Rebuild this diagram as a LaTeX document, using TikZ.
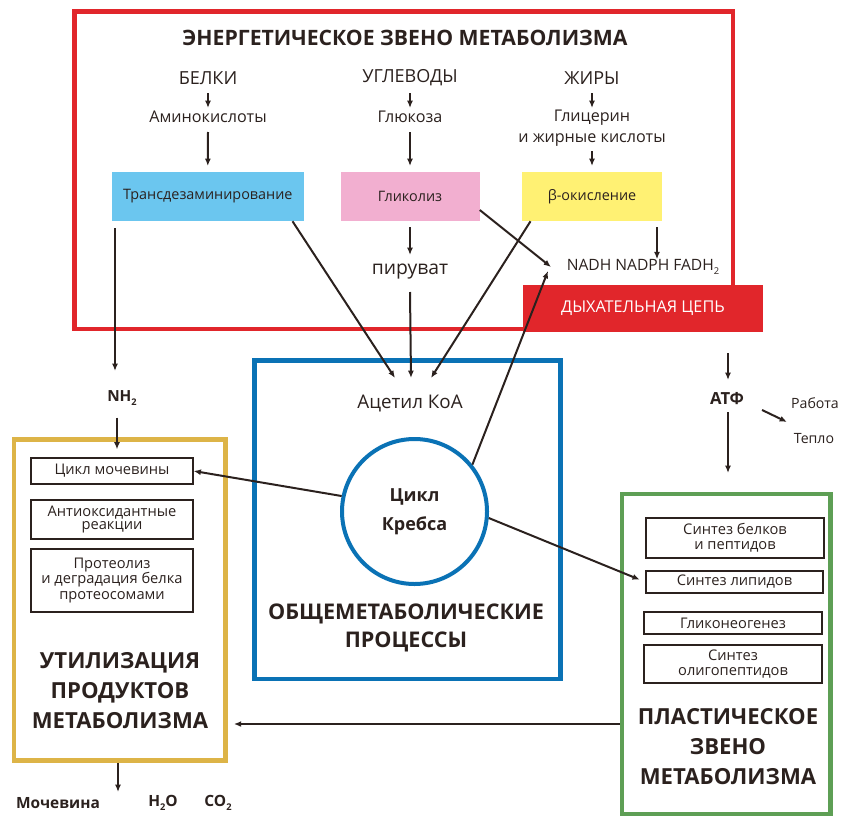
\documentclass[tikz,border=0pt]{standalone}
\usepackage{fontspec}
\setmainfont{Open Sans}
\usetikzlibrary{arrows.meta,calc}
\definecolor{txt}{HTML}{2B211E}
\definecolor{redf}{HTML}{E1262B}
\definecolor{lblue}{HTML}{6BC6EF}
\definecolor{lpink}{HTML}{F2AFD0}
\definecolor{lyell}{HTML}{FFF173}
\definecolor{bluef}{HTML}{0A72B5}
\definecolor{goldf}{HTML}{DDB447}
\definecolor{greenf}{HTML}{5E9F55}
\newcommand{\lowsub}[1]{\raisebox{-0.45ex}{\scalebox{0.6}{#1}}}
\tikzset{
  frame/.style={draw, line width=3.6pt, rectangle, inner sep=0pt},
  procbox/.style={rectangle, inner sep=0pt, text=txt, font=\fontsize{10.8}{13}\selectfont, minimum height=36.75pt},
  sub/.style={rectangle, draw=txt, line width=0.9pt, inner sep=0pt, text=txt, align=center, font=\fontsize{11}{11.3}\selectfont},
  lbl/.style={inner sep=0pt, text=txt, align=center},
  big/.style={lbl, font=\fontsize{13.5}{16}\selectfont},
  small/.style={lbl, font=\fontsize{12.1}{15.5}\selectfont},
  btitle/.style={lbl, font=\fontsize{16.6}{22.5}\selectfont\bfseries},
  boldlbl/.style={lbl, font=\fontsize{11.6}{13}\selectfont\bfseries},
  arr/.style={draw=txt, line width=1.5pt, -{Latex[length=5.5pt,width=4.5pt]}},
}
\begin{document}
\begin{tikzpicture}[x=0.75pt,y=-0.75pt]
\useasboundingbox (0,0) rectangle (841,817);
% frames
\node[frame, draw=redf, minimum width=493.9pt, minimum height=238.1pt] (redfr) at (403.75,170.25) {};
\node[frame, draw=bluef, minimum width=229.2pt, minimum height=239pt] (bluefr) at (407.5,519.7) {};
\node[frame, draw=goldf, minimum width=158.6pt, minimum height=240.75pt] (goldfr) at (119.75,600) {};
\node[frame, draw=greenf, minimum width=156.4pt, minimum height=240pt] (greenfr) at (726.25,654) {};
% top block
\node[lbl, font=\fontsize{15.9}{18}\selectfont\bfseries] (ttl) at (405,38) {ЭНЕРГЕТИЧЕСКОЕ ЗВЕНО МЕТАБОЛИЗМА};
\node[big] (belki) at (208,78) {БЕЛКИ};
\node[big] (uglev) at (410,78) {УГЛЕВОДЫ};
\node[big] (zhiry) at (592,78) {ЖИРЫ};
\node[small] (amino) at (208,117) {Аминокислоты};
\node[small] (gluc) at (410,117) {Глюкоза};
\node[small] (glic) at (592,128) {Глицерин\\и жирные кислоты};
\node[procbox, fill=lblue, minimum width=143.7pt] (trans) at (207.8,196.5) {Трансдезаминирование};
\node[procbox, fill=lpink, minimum width=104.25pt] (glyc) at (410,196.5) {Гликолиз};
\node[procbox, fill=lyell, minimum width=104.6pt] (beta) at (592,196.5) {β-окисление};
\node[lbl, font=\fontsize{14.5}{16}\selectfont] (piruv) at (410,272) {пируват};
\node[lbl, font=\fontsize{11.7}{12}\selectfont] (nadh) at (643,267) {NADH NADPH FADH\lowsub{2}};
\node[rectangle, fill=redf, inner sep=0pt, minimum width=180pt, minimum height=35.25pt, text=white, font=\fontsize{12.2}{14}\selectfont] (resp) at (643,308.5) {ДЫХАТЕЛЬНАЯ ЦЕПЬ};
% central block
\node[lbl, font=\fontsize{14.1}{16}\selectfont] (acetyl) at (410,403) {Ацетил КоА};
\node[circle, draw=bluef, line width=3pt, fill=white, minimum size=108.75pt, inner sep=0pt, text=txt, align=center, font=\fontsize{13.5}{21.5}\selectfont\bfseries] (krebs) at (414.5,511.5) {Цикл\\Кребса};
\node[lbl, font=\fontsize{16.2}{21.5}\selectfont\bfseries] (obsh) at (406,628) {ОБЩЕМЕТАБОЛИЧЕСКИЕ\\ПРОЦЕССЫ};
% left block
\node[lbl, font=\fontsize{11.5}{13}\selectfont\bfseries] (nh2) at (122,398) {NH\lowsub{2}};
\node[sub, minimum width=121.5pt, minimum height=19.5pt] (urea) at (112,471) {Цикл мочевины};
\node[sub, minimum width=121.5pt, minimum height=29.25pt, font=\fontsize{11}{10}\selectfont] (antiox) at (112,519.5) {Антиоксидантные\\реакции};
\node[sub, minimum width=121.5pt, minimum height=47.25pt, font=\fontsize{11}{11.9}\selectfont] (prot) at (112,580.5) {Протеолиз\\и деградация белка\\протеосомами};
\node[btitle] (util) at (120,690.5) {УТИЛИЗАЦИЯ\\ПРОДУКТОВ\\МЕТАБОЛИЗМА};
\node[boldlbl] (moch) at (58,803) {Мочевина};
\node[boldlbl] (h2o) at (163,803) {H\lowsub{2}O};
\node[boldlbl] (co2) at (218,803) {CO\lowsub{2}};
% right block
\node[lbl, font=\fontsize{12.5}{13}\selectfont\bfseries] (atf) at (727,399) {АТФ};
\node[lbl, font=\fontsize{10.6}{13}\selectfont] (rabota) at (815,403) {Работа};
\node[lbl, font=\fontsize{10.6}{13}\selectfont] (teplo) at (814,439) {Тепло};
\node[sub, minimum width=133.5pt, minimum height=30pt] (synprot) at (735,538) {Синтез белков\\и пептидов};
\node[sub, minimum width=132.75pt, minimum height=16.5pt] (synlip) at (734.5,582) {Синтез липидов};
\node[sub, minimum width=133.5pt, minimum height=16.5pt] (gluco) at (733,623) {Гликонеогенез};
\node[sub, minimum width=133.5pt, minimum height=28.5pt] (oligo) at (733,664) {Синтез\\олигопептидов};
\node[btitle] (plast) at (728,746.5) {ПЛАСТИЧЕСКОЕ\\ЗВЕНО\\МЕТАБОЛИЗМА};
% free arrow ends
\coordinate (ac1) at (395,378);
\coordinate (ac2) at (411,378);
\coordinate (ac3) at (431,378);
\coordinate (nd1) at (551,267);
\coordinate (nd2) at (548,271);
\coordinate (nhin) at (115,371);
\coordinate (atfin) at (728,380);
\coordinate (grin) at (728,473);
\coordinate (worktip) at (787,422);
\coordinate (wasteend) at (118,792);
% arrows top
\draw[arr] (belki.south |- 0,93) -- (amino.north |- 0,108);
\draw[arr] (amino.south |- 0,132) -- (trans.north |- 0,166);
\draw[arr] (uglev.south |- 0,93) -- (gluc.north |- 0,108);
\draw[arr] (gluc.south |- 0,132) -- (glyc.north |- 0,166);
\draw[arr] (zhiry.south |- 0,93) -- (glic.north |- 0,108);
\draw[arr] (glic.south |- 0,151) -- (beta.north |- 0,166);
\draw[arr] (glyc.south |- 0,227) -- (piruv.north |- 0,255);
\draw[arr] (piruv.south |- 0,292) -- (ac2);
\draw[arr] (trans.south -| 292.5,0) -- (ac1);
\draw[arr] (beta.south -| 530.5,0) -- (ac3);
\draw[arr] (glyc.east |- 0,210) -- (nd1);
\draw[arr] (beta.south -| 657,0) ++(0,6) -- (nadh.north -| 657,0);
\draw[arr] (krebs.39) -- (nd2);
\draw[arr] (trans.south -| 115,0) ++(0,7) -- (nhin);
\draw[arr, shorten >=6pt] (nh2.south -| 117,0) ++(0,12) -- (urea.north -| 117,0);
\draw[arr] (krebs.168) -- (urea.east);
\draw[arr, shorten >=4.5pt] (krebs.-5) -- (synlip.west);
% right side arrows
\draw[arr] (resp.south -| 728,0) ++(0,21) -- (atfin);
\draw[arr] (atf.east) ++(18,11) -- (worktip);
\draw[arr] (atf.south -| 728,0) ++(0,7) -- (grin);
\draw[arr, shorten >=4.5pt] (greenfr.west |- 0,724) -- (goldfr.east |- 0,724);
\draw[arr] (goldfr.south -| 118,0) -- (wasteend);
\end{tikzpicture}
\end{document}
